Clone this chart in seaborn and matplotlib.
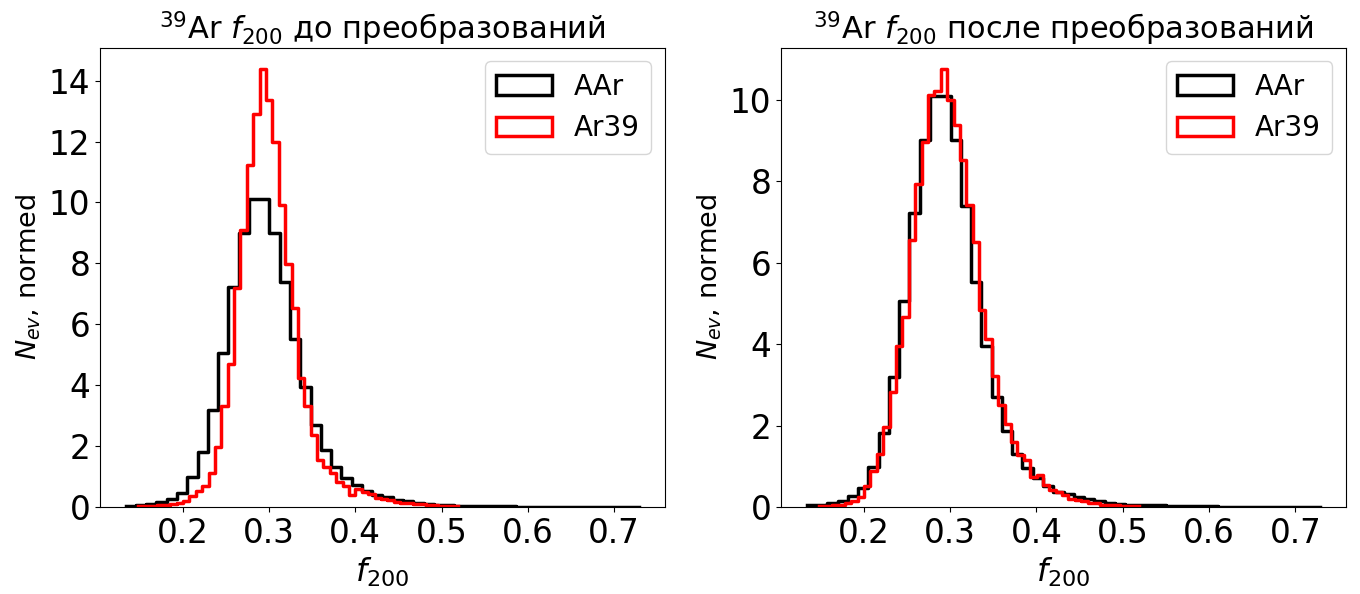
import numpy as np
import pandas as pd
import matplotlib
matplotlib.use("Agg")
import matplotlib.pyplot as plt
import matplotlib.patches as mpatches
import seaborn as sns

# ---- data (density-normalised histograms, 50 bins each) ----
aar_range = (0.1338, 0.7290)
ar39_range = (0.1485, 0.5185)
n_bins = 50

aar_heights = [0.04, 0.06, 0.09, 0.15, 0.26, 0.46, 0.97, 1.81, 3.19, 5.05,
               7.22, 9.01, 10.10, 10.10, 9.01, 7.40, 5.53, 3.95, 2.70, 1.87,
               1.30, 0.95, 0.71, 0.52, 0.38, 0.32, 0.24, 0.19, 0.14, 0.11,
               0.08, 0.06, 0.04, 0.04, 0.04, 0.03, 0.02, 0.02, 0.015, 0.015,
               0.01, 0.01, 0.01, 0.008, 0.006, 0.005, 0.004, 0.003, 0.002, 0.002]

ar39_before = [0.02, 0.03, 0.04, 0.05, 0.07, 0.10, 0.14, 0.20, 0.36, 0.53,
               0.69, 1.13, 1.96, 3.33, 4.70, 7.18, 9.10, 11.24, 12.90, 14.37,
               13.38, 11.98, 9.92, 7.98, 6.52, 4.23, 3.30, 2.36, 1.54, 1.32,
               1.10, 0.82, 0.69, 0.38, 0.60, 0.50, 0.42, 0.30, 0.26, 0.22,
               0.15, 0.13, 0.12, 0.11, 0.09, 0.07, 0.05, 0.04, 0.03, 0.02]

ar39_after = [0.03, 0.03, 0.04, 0.05, 0.10, 0.15, 0.25, 0.51, 0.88, 1.31,
              1.97, 2.83, 3.95, 4.67, 6.55, 7.94, 8.97, 10.11, 10.22, 10.75,
              10.01, 9.38, 8.52, 7.41, 6.51, 4.83, 4.13, 3.23, 2.50, 2.05,
              1.60, 1.27, 1.15, 0.74, 0.78, 0.53, 0.42, 0.36, 0.29, 0.20,
              0.16, 0.14, 0.11, 0.09, 0.06, 0.05, 0.04, 0.03, 0.03, 0.02]

labels = ["AAr", "Ar39"]
colors = ["black", "red"]
titles = [r"$^{39}$Ar $f_{200}$ до преобразований",
          r"$^{39}$Ar $f_{200}$ после преобразований"]
xticks = [0.2, 0.3, 0.4, 0.5, 0.6, 0.7]
yticks_before = [0, 2, 4, 6, 8, 10, 12, 14]
yticks_after = [0, 2, 4, 6, 8, 10]


def hist_frame(rng, heights):
    edges = np.linspace(rng[0], rng[1], n_bins + 1)
    centers = 0.5 * (edges[:-1] + edges[1:])
    return pd.DataFrame({"x": centers, "w": heights})


fig = plt.figure(figsize=(13.6, 5.94), dpi=100)
ax1 = fig.add_axes([0.0735, 0.1465, 0.4154, 0.7735])
ax2 = fig.add_axes([0.5743, 0.1465, 0.4154, 0.7735])

lw = 2.5
for ax, red_h, title, yt in [(ax1, ar39_before, titles[0], yticks_before),
                             (ax2, ar39_after, titles[1], yticks_after)]:
    top = 0
    for rng, h, col in [(aar_range, aar_heights, colors[0]), (ar39_range, red_h, colors[1])]:
        df = hist_frame(rng, h)
        sns.histplot(data=df, x="x", weights="w", bins=n_bins, binrange=rng,
                     stat="count", element="step", fill=False, color=col,
                     linewidth=lw, ax=ax)
        top = max(top, max(h))
    ax.set_ylim(0, top * 1.05)
    ax.set_xticks(xticks)
    ax.set_yticks(yt)
    ax.tick_params(axis="both", labelsize=23.5)
    ax.set_xlabel(r"$f_{200}$", fontsize=23)
    ax.set_ylabel(r"$N_{ev}$, normed", fontsize=19.5)
    ax.set_title(title, fontsize=22)
    handles = [mpatches.Rectangle((0, 0), 1, 1, fill=False, edgecolor=c, linewidth=lw)
               for c in colors]
    ax.legend(handles, labels, loc="upper right", fontsize=20)

fig.savefig("out.png", dpi=100)
